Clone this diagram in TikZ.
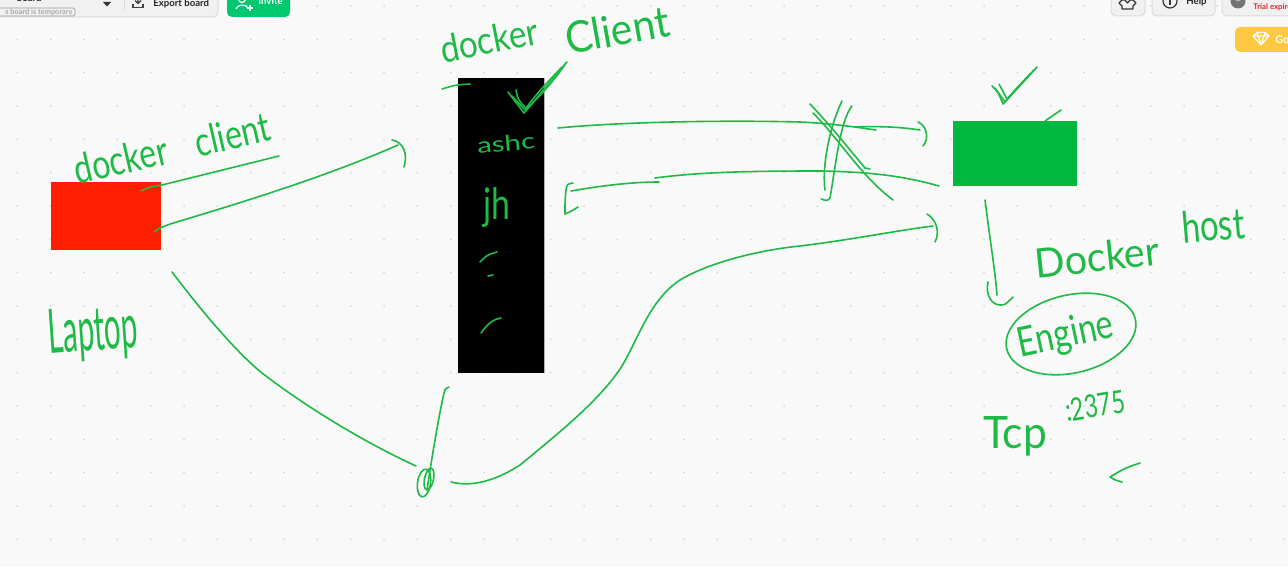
\documentclass[tikz,border=0pt]{standalone}
\usepackage{graphicx}
\usepackage{fontspec}
\setmainfont{Lato}
\newfontfamily\hand{Lato}
\definecolor{bgc}{RGB}{249,249,249}
\definecolor{dotc}{RGB}{214,214,214}
\definecolor{pen}{RGB}{30,186,70}
\definecolor{redc}{RGB}{255,30,0}
\definecolor{greenc}{RGB}{0,184,62}
\definecolor{invitec}{RGB}{0,200,110}
\definecolor{yellowc}{RGB}{255,200,64}
\definecolor{panelc}{RGB}{241,241,241}
\definecolor{borderc}{RGB}{218,218,218}
\definecolor{trialc}{RGB}{229,40,40}
\newcommand\handtxt[3]{\resizebox{#1pt}{#2pt}{\hand #3}}
\begin{document}
\begin{tikzpicture}[x=0.5pt,y=-0.5pt,
  pen/.style={draw=pen, line width=0.8pt, line cap=round, line join=round},
  hw/.style={text=pen, inner sep=0pt},
  uibtn/.style={fill=panelc, draw=borderc, line width=0.5pt, rounded corners=2.5pt},
  uitxt/.style={inner sep=0pt, font=\fontsize{4.8}{5}\selectfont\bfseries, text=black!85}]
\useasboundingbox (0,0) rectangle (1288,567);
\fill[bgc] (0,0) rectangle (1288,567);
\foreach \i in {0,...,38} {\foreach \j in {0,...,16} {\fill[dotc] ({17.4+33.333*\i},{6+33.333*\j}) circle (1);}}

% ---------- toolbar left ----------
\draw[uibtn] (-10,-10) rectangle (218,17);
\node[uitxt, anchor=base east] (title) at (42,1.5) {board};
\draw[borderc!70!black, line width=0.4pt, rounded corners=0.8pt] (-5,8) rectangle (75,16);
\node[inner sep=0pt, anchor=east, font=\fontsize{3.7}{4}\selectfont\bfseries, text=black!35] (temp) at (73,12) {s board is temporary};
\fill[black!80] (103,2) -- (111,2) -- (107,6.5) -- cycle;
\draw[borderc, line width=0.5pt] (124,-1) -- (124,11);
\draw[black!75, line width=0.6pt] (138,-3) -- (138,3) (135,0.5) -- (138,3.5) -- (141,0.5);
\draw[black!75, line width=0.6pt] (133,4) -- (133,7.5) -- (143,7.5) -- (143,4);
\node[uitxt, anchor=base west] (export) at (153,7) {Export board};
\fill[invitec, rounded corners=2.5pt] (227,-10) rectangle (290,17);
\draw[white, line width=0.6pt] (242,-1) circle (3.5);
\draw[white, line width=0.6pt] (236,9) .. controls (237,4) and (247,4) .. (248,8);
\draw[white, line width=0.6pt] (247,8) -- (253,8) (250,5) -- (250,11);
\node[uitxt, anchor=base west, text=white] (invite) at (258,5) {Invite};

% ---------- toolbar right ----------
\draw[uibtn] (1111,-10) rectangle (1145,16);
\draw[black!80, line width=0.6pt, line join=round] (1122,0) -- (1119,3) -- (1122,6) -- (1122,9) -- (1133,9) -- (1133,6) -- (1136,3) -- (1133,0) -- (1130,0) -- (1127.5,3) -- (1125,0) -- cycle;
\draw[uibtn] (1152,-10) rectangle (1215,16);
\draw[black!80, line width=0.6pt] (1170,1) circle (7);
\draw[black!80, line width=0.8pt] (1170,-1) -- (1170,5);
\node[uitxt, anchor=base west] (help) at (1186,5) {Help};
\draw[uibtn] (1222,-10) rectangle (1300,16);
\fill[black!55] (1238,1) circle (7.5);
\fill[black!30] (1238,-2) circle (3.5);
\node[inner sep=0pt, anchor=base west, font=\fontsize{3.9}{4}\selectfont\bfseries, text=trialc] (trial) at (1253,9.5) {Trial expires};
\fill[yellowc, rounded corners=2.5pt] (1235,27) rectangle (1310,52);
\draw[white, line width=0.6pt, line join=round] (1253,36) -- (1257,32.5) -- (1265,32.5) -- (1269,36) -- (1261,45) -- cycle (1253,36) -- (1269,36) (1257,32.5) -- (1261,45) -- (1265,32.5);
\node[uitxt, anchor=base west, text=white, font=\fontsize{5.4}{6}\selectfont\bfseries] (go) at (1275,43.5) {Go Premium};

% ---------- boxes ----------
\fill[redc] (51,182) rectangle (161,250);
\fill[black] (458,78) rectangle (544,373);
\draw[black!30, line width=0.4pt] (544,78) -- (544,373);
\fill[greenc] (953,121) rectangle (1077,186);

% ---------- handwritten texts ----------
\node[hw, rotate=13] (lclient) at (172,148) {\handtxt{100}{15}{docker\hspace{0.9em}client}};
\node[hw, rotate=4] (laptop) at (93,334) {\handtxt{45}{22}{Laptop}};
\node[hw, rotate=11] (tdocker) at (489,40) {\handtxt{49.5}{14}{docker}};
\node[hw, rotate=10] (tclient) at (617,30) {\handtxt{52.5}{16}{Client}};
\node[hw, rotate=5] (ashc) at (506,143) {\handtxt{29}{8}{ashc}};
\node[hw] (jh) at (497,207) {\handtxt{13.5}{16}{jh}};
\node[hw, rotate=6] (dockerh) at (1097,257) {\handtxt{62.5}{15}{Docker}};
\node[hw, rotate=5] (host) at (1213,225) {\handtxt{31.5}{16}{host}};
\node[hw, rotate=12] (engine) at (1066,336) {\handtxt{48.5}{15}{Engine}};
\node[hw] (tcp) at (1015,436) {\handtxt{32}{16}{Tcp}};
\node[hw, rotate=9] (port) at (1095,406) {\handtxt{30}{11.5}{:2375}};

% ---------- strokes: laptop ----------
\draw[pen] (141,191) .. controls (150,187) .. (162,185) -- (279,156);
\draw[pen] (154,232) .. controls (160,227) and (170,224) .. (180,221) .. controls (250,200) and (330,175) .. (398,145);
\draw[pen] (392,140) .. controls (404,142) and (408,155) .. (404,167);
\draw[pen] (172,272) .. controls (210,322) and (240,355) .. (262,373) .. controls (310,410) and (370,445) .. (416,466);

% scribble and lines at bottom
\draw[pen, rotate around={-8:(424,483)}] (424,483) ellipse [x radius=6.5, y radius=14];
\draw[pen, rotate around={-12:(429,479)}] (429,479) ellipse [x radius=4.5, y radius=11];
\draw[pen] (427,490) .. controls (433,450) and (440,410) .. (444,393) .. controls (445,389) .. (449,387);
\draw[pen] (451,482) .. controls (475,488) and (500,478) .. (520,465) .. controls (560,432) and (600,400) .. (622,366) .. controls (640,335) and (650,300) .. (680,280) .. controls (710,262) and (760,250) .. (800,246) .. controls (850,240) and (900,230) .. (933,226);
\draw[pen] (927,214) .. controls (937,220) and (940,233) .. (935,242);

% ---------- black box marks ----------
\draw[pen] (442,89) .. controls (455,85) .. (470,84);
\draw[pen] (508,92) -- (524,113) .. controls (540,95) and (555,75) .. (567,62);
\draw[pen] (512,96) -- (525,110) .. controls (545,92) and (558,75) .. (566,63);
\draw[pen] (516,90) .. controls (518,100) .. (526,108) .. controls (540,90) .. (562,67);
\draw[pen] (480,262) .. controls (487,255) .. (497,252);
\draw[pen] (488,276) -- (493,275);
\draw[pen] (481,333) .. controls (488,323) and (494,319) .. (501,318);

% ---------- arrows between black box and green box ----------
\draw[pen] (558,128) .. controls (620,122) and (720,120) .. (800,122) .. controls (840,124) and (860,128) .. (876,130);
\draw[pen] (855,127) .. controls (880,126) and (900,127) .. (920,130);
\draw[pen] (918,122) .. controls (926,125) and (930,138) .. (923,146);
\draw[pen] (939,186) .. controls (910,178) and (880,172) .. (820,171) .. controls (750,171) and (700,172) .. (655,178);
\draw[pen] (659,182) .. controls (630,182) and (600,186) .. (571,191);
\draw[pen] (573,183) .. controls (567,184) .. (566,190) .. controls (565,200) .. (565,214) .. controls (570,212) .. (578,207);
% cross
\draw[pen] (810,104) .. controls (830,125) and (850,150) .. (865,168) -- (870,169);
\draw[pen] (813,113) .. controls (840,140) and (860,175) .. (893,200);
\draw[pen] (842,101) .. controls (828,130) and (822,170) .. (825,190);
\draw[pen] (852,106) .. controls (840,120) and (835,170) .. (830,198) .. controls (827,201) .. (821,199);

% ---------- green box marks ----------
\draw[pen] (995,88) -- (1005,102) -- (1037,67);
\draw[pen] (999,84) -- (1007,99) -- (1034,70);
\draw[pen] (992,86) .. controls (998,92) .. (1003,104) .. controls (1015,90) .. (1030,74);
\draw[pen] (1045,121) -- (1061,110);
\draw[pen] (985,200) .. controls (990,240) and (995,270) .. (997,295);
\draw[pen] (988,282) .. controls (985,295) and (992,305) .. (1000,305) .. controls (1005,305) .. (1013,297);
\draw[pen, rotate around={13:(1071,334)}] (1071,334) ellipse [x radius=66, y radius=39];
\draw[pen] (1140,463) .. controls (1125,468) .. (1110,477) .. controls (1115,480) .. (1122,482);
\end{tikzpicture}
\end{document}
